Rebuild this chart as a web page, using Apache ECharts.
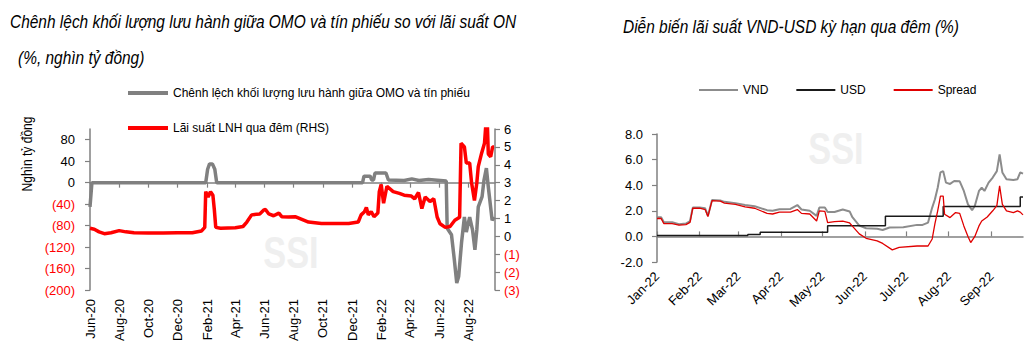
<!DOCTYPE html>
<html>
<head>
<meta charset="utf-8">
<script src="https://cdn.jsdelivr.net/npm/echarts@6/dist/echarts.min.js"></script>
<style>
html,body{margin:0;padding:0;background:#fff;}
#c{width:1033px;height:349px;}
</style>
</head>
<body>
<div id="c"></div>
<script>
// ---------- DATA ----------
const leftTitle1 = 'Chênh lệch khối lượng lưu hành giữa OMO và tín phiếu so với lãi suất ON';
const leftTitle2 = '(%, nghìn tỷ đồng)';
const rightTitle = 'Diễn biến lãi suất VND-USD kỳ hạn qua đêm (%)';
const leftYName = 'Nghìn tỷ đồng';
const omoName = 'Chênh lệch khối lượng lưu hành giữa OMO và tín phiếu';
const lnhName = 'Lãi suất LNH qua đêm (RHS)';

const leftXTicks = ['Jun-20','Aug-20','Oct-20','Dec-20','Feb-21','Apr-21','Jun-21','Aug-21','Oct-21','Dec-21','Feb-22','Apr-22','Jun-22','Aug-22'];
const rightXTicks = ['Jan-22','Feb-22','Mar-22','Apr-22','May-22','Jun-22','Jul-22','Aug-22','Sep-22'];
const leftYTicks = [-200,-160,-120,-80,-40,0,40,80];

const omoDates = ['2020-06-01','2020-06-05','2021-01-29','2021-02-02','2021-02-06','2021-02-12','2021-02-17','2021-02-21',
 '2021-12-23','2021-12-26','2022-01-08','2022-01-11','2022-01-15','2022-01-18','2022-02-10','2022-02-15','2022-03-20',
 '2022-04-05','2022-04-20','2022-05-10','2022-06-16','2022-06-18','2022-06-27','2022-07-03','2022-07-08','2022-07-12',
 '2022-07-18','2022-07-24','2022-07-28','2022-08-04','2022-08-10','2022-08-15','2022-08-19','2022-08-22','2022-08-30',
 '2022-09-03','2022-09-08','2022-09-12','2022-09-20','2022-09-24'];
const omo = [-45,0,0,25,35,35,25,0,
 0,12,12,5,5,18,18,5,4,
 7,4,6,3,-85,-97,-144,-187,-175,
 -112,-64,-92,-64,-88,-125,-88,-45,-26,
 5,27,-8,-70,-64];

const lnhDates = ['2020-06-01','2020-06-10','2020-06-20','2020-07-01','2020-07-15','2020-08-01','2020-08-15','2020-09-01',
 '2020-10-01','2020-11-01','2020-12-01','2021-01-01','2021-01-20','2021-01-27','2021-01-29','2021-02-03','2021-02-08',
 '2021-02-13','2021-02-16','2021-02-19','2021-03-01','2021-04-01','2021-04-17','2021-04-25','2021-05-05','2021-05-22',
 '2021-05-31','2021-06-03','2021-06-10','2021-06-20','2021-07-01','2021-07-07','2021-07-21','2021-08-04','2021-08-18',
 '2021-09-01','2021-09-28','2021-11-24','2021-12-14','2021-12-20','2021-12-27','2021-12-31','2022-01-04','2022-01-10',
 '2022-01-16','2022-01-24','2022-01-27','2022-01-31','2022-02-05','2022-02-12','2022-02-25','2022-03-10','2022-03-20',
 '2022-04-04','2022-04-11','2022-04-19','2022-04-26','2022-05-03','2022-05-13','2022-05-21','2022-05-28','2022-06-03',
 '2022-06-14','2022-06-24','2022-07-04','2022-07-14','2022-07-17','2022-07-24','2022-07-28','2022-08-04','2022-08-08',
 '2022-08-14','2022-08-19','2022-08-22','2022-08-29','2022-09-04','2022-09-07','2022-09-10','2022-09-12','2022-09-17',
 '2022-09-21','2022-09-24'];
const lnh = [0.45,0.4,0.25,0.15,0.2,0.32,0.25,0.2,
 0.18,0.18,0.2,0.2,0.3,0.5,2.5,2.2,2.5,
 2.3,1.5,0.5,0.45,0.48,0.55,0.8,1.2,1.25,
 1.48,1.5,1.25,1.15,1.3,1.1,1.08,1.1,0.95,
 0.8,0.72,0.72,0.8,1.2,1.38,1.62,1.2,1.38,
 1.1,1.3,2.5,2.9,1.85,2.8,2.5,2.4,2.3,
 2.25,2.1,2.45,1.55,2.2,1.95,2.1,1.08,0.7,
 0.5,0.55,0.9,1.07,5.2,5.0,4.1,4.1,3.0,
 2.0,3.0,3.9,4.65,5.2,6.3,6.3,4.6,4.45,
 5.0,5.0];

const vndDates = ['2022-01-01','2022-01-04','2022-01-06','2022-01-12','2022-01-17','2022-01-22','2022-01-25','2022-01-27',
 '2022-02-01','2022-02-05','2022-02-07','2022-02-10','2022-02-16','2022-02-19','2022-02-27','2022-03-06','2022-03-13',
 '2022-03-22','2022-03-26','2022-03-31','2022-04-08','2022-04-13','2022-04-16','2022-04-22','2022-04-27','2022-04-29',
 '2022-05-03','2022-05-05','2022-05-10','2022-05-16','2022-05-21','2022-05-23','2022-05-28','2022-06-02','2022-06-10',
 '2022-06-14','2022-06-19','2022-06-29','2022-07-09','2022-07-13','2022-07-17','2022-07-20','2022-07-22','2022-07-24',
 '2022-07-26','2022-07-28','2022-07-30','2022-08-02','2022-08-05','2022-08-09','2022-08-12','2022-08-15','2022-08-18',
 '2022-08-20','2022-08-23','2022-08-25','2022-08-27','2022-08-30','2022-09-02','2022-09-05','2022-09-07','2022-09-09',
 '2022-09-12','2022-09-17','2022-09-20','2022-09-22','2022-09-24'];
const vnd = [1.5,1.5,1.1,1.1,0.95,1.0,1.2,2.25,
 2.25,2.2,1.6,2.85,2.8,2.7,2.6,2.45,2.35,
 2.05,2.0,2.12,2.15,2.45,2.1,2.0,1.6,2.25,
 2.25,1.9,1.9,2.1,1.95,1.5,0.85,0.64,0.6,
 0.5,0.7,0.72,0.9,0.9,1.08,2.25,2.9,3.8,
 5.0,5.1,4.2,4.1,4.33,4.3,3.55,2.5,2.05,
 2.4,3.55,3.8,3.55,4.2,4.6,5.1,6.4,5.0,
 4.47,4.4,4.47,5.0,4.9];

const usdDates = ['2022-01-01','2022-02-28','2022-03-08','2022-03-17','2022-05-05','2022-06-16','2022-07-28','2022-09-22','2022-09-24'];
const usd = [0.08,0.08,0.15,0.33,0.83,1.58,2.33,3.08,3.08];

const spreadDates = ['2022-01-01','2022-01-04','2022-01-06','2022-01-12','2022-01-17','2022-01-22','2022-01-25','2022-01-27',
 '2022-02-01','2022-02-05','2022-02-07','2022-02-10','2022-02-16','2022-02-19','2022-02-27','2022-03-06','2022-03-13',
 '2022-03-22','2022-03-26','2022-03-31','2022-04-08','2022-04-13','2022-04-16','2022-04-22','2022-04-27','2022-04-29',
 '2022-05-03','2022-05-05','2022-05-10','2022-05-16','2022-05-21','2022-05-23','2022-05-28','2022-06-02','2022-06-10',
 '2022-06-14','2022-06-21','2022-06-26','2022-07-09','2022-07-17','2022-07-20','2022-07-22','2022-07-24','2022-07-26',
 '2022-07-28','2022-07-29','2022-08-02','2022-08-06','2022-08-09','2022-08-12','2022-08-15','2022-08-17','2022-08-20',
 '2022-08-23','2022-08-25','2022-08-29','2022-09-02','2022-09-05','2022-09-07','2022-09-09','2022-09-12','2022-09-17',
 '2022-09-20','2022-09-22','2022-09-24'];
const spread = [1.4,1.4,1.0,1.0,0.88,0.92,1.1,2.2,
 2.2,2.1,1.55,2.8,2.75,2.6,2.5,2.3,2.2,
 1.8,1.75,1.9,1.9,2.1,1.8,1.75,1.2,2.0,
 1.95,1.08,1.15,1.2,1.05,0.8,0.2,-0.15,-0.35,
 -0.55,-1.05,-0.85,-0.75,-0.75,-0.2,1.0,2.0,3.15,
 3.15,1.73,1.47,1.86,1.8,0.82,0.0,-0.48,0.0,
 0.82,1.2,1.52,2.0,2.4,3.95,2.5,2.0,1.86,
 2.0,1.9,1.68];

// ---------- HELPERS ----------
const MONTHS = ['Jan','Feb','Mar','Apr','May','Jun','Jul','Aug','Sep','Oct','Nov','Dec'];
function tickToTime(lbl){ const p = lbl.split('-'); return Date.UTC(2000 + (+p[1]), MONTHS.indexOf(p[0]), 1); }
function dateToTime(s){ const p = s.split('-'); return Date.UTC(+p[0], +p[1]-1, +p[2]); }
function fmtMonth(v){ const d = new Date(v); return MONTHS[d.getUTCMonth()] + '-' + String(d.getUTCFullYear()).slice(2); }
function zip(ds, vs){ return ds.map((d,i)=>[dateToTime(d), vs[i]]); }
function paren(v){ return v < 0 ? '(' + (-v) + ')' : String(v); }

const FONT = "'Liberation Sans Narrow','Arial Narrow','Liberation Sans',Arial,sans-serif";
const GRAY = '#808080';
const leftTickTimes = leftXTicks.map(tickToTime);
const rightTickTimes = rightXTicks.map(tickToTime);
const lMin = dateToTime('2020-06-01'), lMax = dateToTime('2022-09-26');
const rMin = dateToTime('2022-01-01'), rMax = dateToTime('2022-09-24');

const chart = echarts.init(document.getElementById('c'), null, {renderer:'svg'});
const lbl = {fontFamily: FONT, fontSize: 13, color: '#000'};
const lgd = {fontFamily: FONT, fontSize: 12, color: '#000'};
const SX = 0.86;

chart.setOption({
  animation: false,
  textStyle: {fontFamily: FONT},
  graphic: [
    {type:'text', x: 10, y: 22, scaleX: SX, style:{text: leftTitle1, font: 'italic 18px ' + FONT, fill:'#000', verticalAlign:'middle'}},
    {type:'text', x: 18, y: 58, scaleX: SX, style:{text: leftTitle2, font: 'italic 18px ' + FONT, fill:'#000', verticalAlign:'middle'}},
    {type:'text', x: 623, y: 27, scaleX: SX, style:{text: rightTitle, font: 'italic 18px ' + FONT, fill:'#000', verticalAlign:'middle'}},
    {type:'text', x: 27, y: 154, rotation: Math.PI/2, scaleX: SX, style:{text: leftYName, font: '14px ' + FONT, fill:'#000', align:'center', verticalAlign:'middle'}},
    {type:'text', x: 291, y: 252, scaleX: 0.78, z: -1, style:{text:'SSI', font:'bold 44px ' + FONT, fill:'#efefef', align:'center', verticalAlign:'middle'}},
    {type:'text', x: 836, y: 148, scaleX: 0.78, z: -1, style:{text:'SSI', font:'bold 44px ' + FONT, fill:'#efefef', align:'center', verticalAlign:'middle'}}
  ],
  legend: [
    {left: 128, top: 87, padding: 0, data:[omoName], icon:'rect', itemWidth: 40, itemHeight: 4, textStyle: lgd},
    {left: 128, top: 122, padding: 0, data:[lnhName], icon:'rect', itemWidth: 40, itemHeight: 4, textStyle: lgd},
    {left: 699, top: 84, padding: 0, data:['VND','USD','Spread'], icon:'rect', itemWidth: 39, itemHeight: 2, itemGap: 28, textStyle: lgd}
  ],
  grid: [
    {left: 90, top: 129, width: 405, height: 161},
    {left: 657, top: 134, width: 366, height: 128}
  ],
  xAxis: [
    {gridIndex:0, type:'value', min:lMin, max:lMax, position:'bottom',
     axisLine:{show:true, onZero:true, lineStyle:{color:GRAY, width:1.5}},
     axisTick:{show:true, inside:false, length:5, customValues:leftTickTimes, lineStyle:{color:GRAY, width:1.2}},
     axisLabel:{show:false}, splitLine:{show:false}},
    {gridIndex:0, type:'value', min:lMin, max:lMax, position:'bottom',
     axisLine:{show:false, onZero:false}, axisTick:{show:false},
     axisLabel:Object.assign({rotate:90, margin:9, customValues:leftTickTimes, formatter: fmtMonth}, lbl),
     splitLine:{show:false}},
    {gridIndex:1, type:'value', min:rMin, max:rMax, position:'bottom',
     axisLine:{show:true, onZero:true, lineStyle:{color:GRAY, width:1.5}},
     axisTick:{show:true, inside:true, length:5, customValues:rightTickTimes, lineStyle:{color:GRAY, width:1.2}},
     axisLabel:{show:false}, splitLine:{show:false}},
    {gridIndex:1, type:'value', min:rMin, max:rMax, position:'bottom',
     axisLine:{show:false, onZero:false}, axisTick:{show:false},
     axisLabel:Object.assign({rotate:45, margin:12, customValues:rightTickTimes, formatter: fmtMonth}, lbl),
     splitLine:{show:false}}
  ],
  yAxis: [
    {gridIndex:0, type:'value', min:-200, max:100, position:'left',
     axisLine:{show:true, lineStyle:{color:GRAY, width:1.5}},
     axisTick:{show:true, length:5, customValues:leftYTicks, lineStyle:{color:GRAY, width:1.2}},
     axisLabel:{customValues:leftYTicks, margin:15, fontFamily:FONT, fontSize:13, formatter: paren,
                color: v => (v < 0 ? '#ff0000' : '#000')},
     splitLine:{show:false}},
    {gridIndex:0, type:'value', min:-3, max:6, interval:1, position:'right',
     axisLine:{show:true, lineStyle:{color:GRAY, width:1.5}},
     axisTick:{show:true, length:5, lineStyle:{color:GRAY, width:1.2}},
     axisLabel:{margin:9, fontFamily:FONT, fontSize:13, formatter: paren,
                color: v => (v < 0 ? '#ff0000' : '#000')},
     splitLine:{show:false}},
    {gridIndex:1, type:'value', min:-2, max:8, interval:2, position:'left',
     axisLine:{show:true, lineStyle:{color:GRAY, width:1.5}},
     axisTick:{show:true, length:5, lineStyle:{color:GRAY, width:1.2}},
     axisLabel:Object.assign({margin:14, formatter: v => v.toFixed(1)}, lbl),
     splitLine:{show:false}}
  ],
  series: [
    {name: omoName, type:'line', xAxisIndex:0, yAxisIndex:0, data: zip(omoDates, omo), showSymbol:false, symbol:'none',
     lineStyle:{color:GRAY, width:3.5}, itemStyle:{color:GRAY}, z:2},
    {name: lnhName, type:'line', xAxisIndex:0, yAxisIndex:1, data: zip(lnhDates, lnh), showSymbol:false, symbol:'none',
     lineStyle:{color:'#ff0000', width:3.5}, itemStyle:{color:'#ff0000'}, z:3},
    {name:'VND', type:'line', xAxisIndex:2, yAxisIndex:2, data: zip(vndDates, vnd), showSymbol:false, symbol:'none',
     lineStyle:{color:'#8c8c8c', width:2}, itemStyle:{color:'#8c8c8c'}, z:2},
    {name:'USD', type:'line', xAxisIndex:2, yAxisIndex:2, data: zip(usdDates, usd), step:'end', showSymbol:false, symbol:'none',
     lineStyle:{color:'#1a1a1a', width:1.5}, itemStyle:{color:'#1a1a1a'}, z:3},
    {name:'Spread', type:'line', xAxisIndex:2, yAxisIndex:2, data: zip(spreadDates, spread), showSymbol:false, symbol:'none',
     lineStyle:{color:'#e00000', width:1.3}, itemStyle:{color:'#e00000'}, z:4}
  ]
});
</script>
</body>
</html>
